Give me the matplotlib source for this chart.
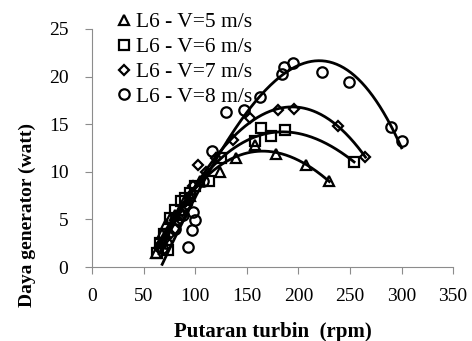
import numpy as np
import matplotlib.pyplot as plt

plt.rcParams['font.family'] = ['Liberation Serif', 'DejaVu Serif']

# turbine speed (rpm) and generator power (watt), blade L6
x5 = [62, 66, 68, 72, 76, 80, 85, 90, 95, 105, 124, 140, 158, 178, 207, 230]
y5 = [1.5, 2.5, 3.5, 4.5, 5.0, 5.5, 6.0, 7.0, 7.5, 9.0, 10.0, 11.5, 12.8, 11.9, 10.7, 9.0]

x6 = [63, 66, 70, 74, 76, 80, 86, 90, 95, 100, 113, 125, 158, 164, 173, 187, 254]
y6 = [1.5, 2.5, 3.5, 1.8, 5.1, 6.0, 6.9, 7.2, 7.8, 8.5, 9.0, 11.5, 13.2, 14.6, 13.8, 14.4, 11.0]

x7 = [65, 68, 72, 76, 80, 85, 88, 92, 95, 98, 103, 110, 120, 137, 153, 180, 196, 238, 265]
y7 = [2.0, 2.5, 3.0, 3.5, 4.0, 5.0, 5.5, 6.5, 7.5, 8.5, 10.7, 10.0, 11.5, 13.3, 15.7, 16.5, 16.6, 14.8, 11.6]

x8 = [68, 72, 80, 88, 93, 97, 98, 100, 108, 116, 130, 147, 163, 184, 186, 195, 223, 249, 290, 300]
y8 = [2.0, 2.5, 4.0, 5.5, 2.1, 3.9, 5.8, 4.9, 9.0, 12.2, 16.3, 16.5, 17.9, 20.3, 21.0, 21.4, 20.5, 19.4, 14.7, 13.2]

labels = ['L6 - V=5 m/s', 'L6 - V=6 m/s', 'L6 - V=7 m/s', 'L6 - V=8 m/s']
markers = ['^', 's', 'D', 'o']
sizes = [7, 6.5, 5, 7.5]

fig = plt.figure(figsize=(4.72, 3.41), dpi=100)
ax = fig.add_axes([0.195, 0.217, 0.765, 0.698])

series = [(x5, y5), (x6, y6), (x7, y7), (x8, y8)]
for (xs, ys), m, s, lab in zip(series, markers, sizes, labels):
    xs = np.array(xs, dtype=float)
    ys = np.array(ys, dtype=float)
    # polynomial trendline
    c = np.polyfit(xs, ys, 3)
    xx = np.linspace(xs.min(), xs.max(), 200)
    ax.plot(xx, np.polyval(c, xx), color='black', lw=2, zorder=2)
    ax.plot(xs, ys, linestyle='none', marker=m, markersize=s, markerfacecolor='none',
            markeredgecolor='black', markeredgewidth=1.6, label=lab, zorder=3)

ax.set_xlim(0, 350)
ax.set_ylim(0, 25)
ax.set_xticks(range(0, 351, 50))
ax.set_yticks(range(0, 26, 5))
ax.spines['top'].set_visible(False)
ax.spines['right'].set_visible(False)
for sp in ['left', 'bottom']:
    ax.spines[sp].set_color('#8c8c8c')
ax.tick_params(direction='out', length=5, color='#8c8c8c', labelsize=14)
ax.tick_params(axis='x', pad=10)
ax.tick_params(axis='y', pad=12)

ax.set_xlabel('Putaran turbin  (rpm)', fontsize=15, fontweight='bold', labelpad=12)
fig.text(0.057, 0.37, 'Daya generator (watt)', rotation=90, fontsize=14,
         fontweight='bold', ha='center', va='center')

ax.legend(loc='upper left', bbox_to_anchor=(0.04, 1.115), frameon=False, fontsize=15.5,
          handlelength=0.6, handletextpad=0.25, labelspacing=0.22, borderpad=0)

fig.savefig('out.png', dpi=100)
